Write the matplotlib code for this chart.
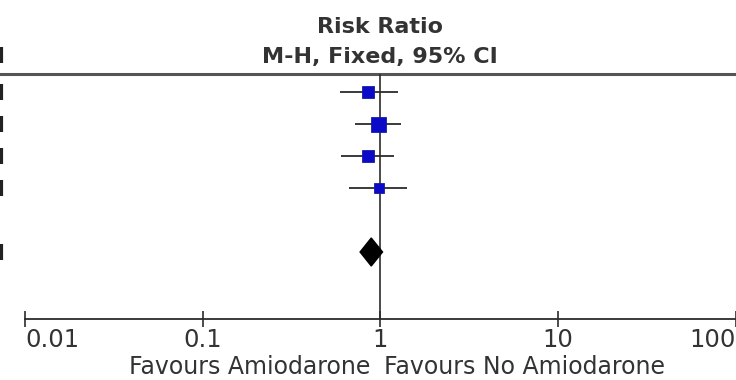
import numpy as np
import matplotlib
matplotlib.use("Agg")
import matplotlib.pyplot as plt
from matplotlib.patches import Polygon
from matplotlib.transforms import blended_transform_factory, offset_copy

# --- Data ---
study_rows = [0, 1, 2, 3]
study_rr = [0.85, 0.97, 0.85, 0.99]
study_lo = [0.59, 0.72, 0.60, 0.67]
study_hi = [1.26, 1.30, 1.20, 1.42]
study_weight = [23.6, 36.7, 23.6, 16.2]

pooled_row = 5
pooled_rr = 0.89
pooled_lo = 0.77
pooled_hi = 1.03

tick_values = [0.01, 0.1, 1, 10, 100]
tick_labels = ["0.01", "0.1", "1", "10", "100"]

header_lines = ["Risk Ratio", "M-H, Fixed, 95% CI"]
favours_left = "Favours Amiodarone"
favours_right = "Favours No Amiodarone"

# cut-off text fragments visible at the left edge
edge_rows = [-1.15, 0, 1, 2, 3, 5]

# --- Layout (rows are 32 px apart, row 0 at 92 px from top) ---
ROW_PX = 32.0
TOP_ROW = -0.56
AXIS_ROW = 7.09
INK = "#2b2b2b"
TEXT = "#333333"

fig = plt.figure(figsize=(7.36, 3.80), dpi=100)
ax = fig.add_axes([0, 0, 1, 1])
ax.set_xscale("log")
ax.set_xlim(10 ** -2.14, 10 ** 2.002)
ax.set_ylim(380 / ROW_PX - 92 / ROW_PX, -92 / ROW_PX)

for s in ["left", "right", "top"]:
    ax.spines[s].set_visible(False)
ax.set_yticks([])
ax.minorticks_off()

# x axis drawn as a spine across the bottom
ax.spines["bottom"].set_position(("data", AXIS_ROW))
ax.spines["bottom"].set_bounds(0.01, ax.get_xlim()[1])
ax.spines["bottom"].set_color(INK)
ax.spines["bottom"].set_linewidth(1.3)
ax.set_xticks(tick_values)
ax.set_xticklabels(tick_labels)
ax.tick_params(axis="x", direction="inout", length=11, width=1.2,
               color=INK, labelsize=17.5, labelcolor=TEXT, pad=1.0)
labels = ax.get_xticklabels()
labels[0].set_horizontalalignment("left")
labels[-1].set_horizontalalignment("right")

# header rule and line of no effect
ax.axhline(TOP_ROW, color="#555555", linewidth=2.2)
ax.vlines(1, TOP_ROW, AXIS_ROW, color=INK, linewidth=1.2)

# study estimates
sizes = 10.8 * np.sqrt(np.array(study_weight) / max(study_weight))
for r, rr, lo, hi, ms in zip(study_rows, study_rr, study_lo, study_hi, sizes):
    ax.hlines(r, lo, hi, color=INK, linewidth=1.3, zorder=2)
    ax.plot(rr, r, marker="s", markersize=ms, color="#0a0ac8",
            markeredgecolor="#1a1aa0", markeredgewidth=0.6, zorder=3)

# pooled diamond
h = 14 / ROW_PX
diamond = Polygon([(pooled_lo, pooled_row), (pooled_rr, pooled_row - h),
                   (pooled_hi, pooled_row), (pooled_rr, pooled_row + h)],
                  closed=True, facecolor="black", edgecolor="black", zorder=3)
ax.add_patch(diamond)

# header text
for i, txt in enumerate(header_lines):
    ax.text(1, (33 + 30 * i - 92) / ROW_PX, txt, ha="center", va="baseline",
            fontsize=16, fontweight="bold", color=TEXT)

# favours labels
fav_y = (374 - 92) / ROW_PX
ax.text(1, fav_y, favours_left, ha="right", va="baseline", fontsize=17,
        color=TEXT, transform=offset_copy(ax.transData, fig=fig, x=-10, y=0, units="dots"))
ax.text(1, fav_y, favours_right, ha="left", va="baseline", fontsize=17,
        color=TEXT, transform=offset_copy(ax.transData, fig=fig, x=4, y=0, units="dots"))

# cut-off fragments at the left edge
edge_tf = blended_transform_factory(ax.transAxes, ax.transData)
for r in edge_rows:
    ax.plot([0.002, 0.002], [r - 0.25, r + 0.25], color="#222222",
            linewidth=3, solid_capstyle="butt", transform=edge_tf)

fig.savefig("out.png", dpi=100, facecolor="white")
